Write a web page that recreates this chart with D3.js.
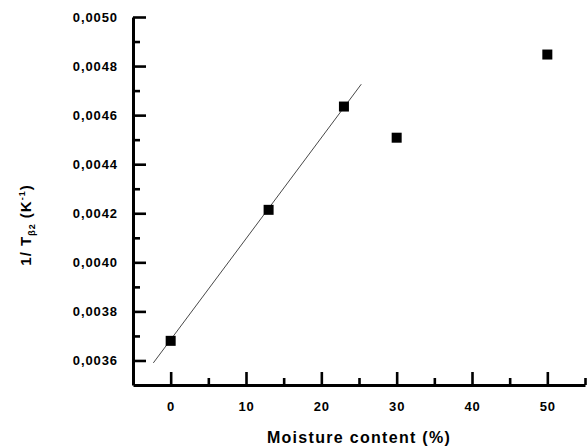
<!DOCTYPE html>
<html lang="en">
	<head>
		<meta charset="utf-8">
		<title>D3: 1/T vs moisture content</title>
		<script type="text/javascript" src="https://cdn.jsdelivr.net/npm/d3@7"></script>
		<style type="text/css">
			body { margin: 0; background: #fff; }
			text { font-family: "Liberation Sans", Arial, sans-serif; fill: #000; }
		</style>
	</head>
	<body>
		<script type="text/javascript">

			//Width and height
			var w = 587;
			var h = 446;

			//Data
			var moisture = [0, 13, 23, 30, 50];
			var invT = [0.00368, 0.004214, 0.004635, 0.004508, 0.004847];

			//Fitted line end points (as drawn)
			var fitX = [-2.3, 25.3];
			var fitY = [0.00359, 0.004726];

			//Tick values
			var xMajor = [0, 10, 20, 30, 40, 50];
			var xMinor = [5, 15, 25, 35, 45, 55];
			var yMajor = [0.0036, 0.0038, 0.0040, 0.0042, 0.0044, 0.0046, 0.0048, 0.0050];
			var yMinor = [0.0037, 0.0039, 0.0041, 0.0043, 0.0045, 0.0047, 0.0049];

			var dataset = moisture.map(function(m, i) { return { x: m, y: invT[i] }; });
			var fitLine = fitX.map(function(x, i) { return { x: x, y: fitY[i] }; });

			//Decimal comma
			var locale = d3.formatLocale({ decimal: ",", thousands: ".", grouping: [3], currency: ["", ""] });
			var fmtY = locale.format(".4f");

			var xScale = d3.scaleLinear()
						.domain([-5, 55])
						.range([133, 585]);

			var yScale = d3.scaleLinear()
						.domain([0.0035, 0.0050])
						.range([385, 17]);

			var svg = d3.select("body")
						.append("svg")
						.attr("width", w)
						.attr("height", h);

			//X axis: major ticks with labels, then minor ones
			var xAxis = d3.axisBottom(xScale)
						.tickValues(xMajor)
						.tickSizeInner(-13)
						.tickSizeOuter(0)
						.tickPadding(17)
						.tickFormat(d3.format("d"));

			svg.append("g")
				.attr("transform", "translate(0,385)")
				.call(xAxis);

			svg.append("g")
				.attr("transform", "translate(0,385)")
				.call(d3.axisBottom(xScale).tickValues(xMinor).tickSizeInner(-7).tickSizeOuter(0).tickFormat(""))
				.select(".domain").remove();

			//Y axis
			var yAxis = d3.axisLeft(yScale)
						.tickValues(yMajor)
						.tickSizeInner(-13)
						.tickSizeOuter(0)
						.tickPadding(15)
						.tickFormat(fmtY);

			svg.append("g")
				.attr("transform", "translate(133,0)")
				.call(yAxis);

			svg.append("g")
				.attr("transform", "translate(133,0)")
				.call(d3.axisLeft(yScale).tickValues(yMinor).tickSizeInner(-7).tickSizeOuter(0).tickFormat(""))
				.select(".domain").remove();

			//Axis styling
			svg.selectAll(".domain")
				.attr("stroke", "#000")
				.attr("stroke-width", 3);
			svg.selectAll(".tick line")
				.attr("stroke", "#000")
				.attr("stroke-width", 2.6);
			svg.selectAll(".tick text")
				.attr("font-family", "'Liberation Sans', Arial, sans-serif")
				.attr("font-size", "13px")
				.attr("font-weight", "bold")
				.attr("letter-spacing", "0.9px")
				.attr("fill", "#000");

			//Fitted line
			var line = d3.line()
						.x(function(d) { return xScale(d.x); })
						.y(function(d) { return yScale(d.y); });

			svg.append("path")
				.datum(fitLine)
				.attr("d", line)
				.attr("fill", "none")
				.attr("stroke", "#333")
				.attr("stroke-width", 0.9);

			//Square markers
			var sz = 10;
			svg.selectAll("rect.pt")
				.data(dataset)
				.enter()
				.append("rect")
				.attr("class", "pt")
				.attr("x", function(d) { return xScale(d.x) - sz / 2; })
				.attr("y", function(d) { return yScale(d.y) - sz / 2; })
				.attr("width", sz)
				.attr("height", sz)
				.attr("fill", "#000");

			//X title
			svg.append("text")
				.attr("x", 359)
				.attr("y", 443)
				.attr("text-anchor", "middle")
				.attr("font-size", "16px")
				.attr("font-weight", "bold")
				.attr("letter-spacing", "1.3px")
				.text("Moisture content (%)");

			//Y title
			var yt = svg.append("text")
				.attr("transform", "translate(31,225) rotate(-90)")
				.attr("text-anchor", "middle")
				.attr("font-size", "15px")
				.attr("font-weight", "bold")
				.attr("letter-spacing", "1px");
			yt.append("tspan").text("1/ T");
			yt.append("tspan").attr("font-size", "9px").attr("dy", 4).text("β2");
			yt.append("tspan").attr("dy", -4).text(" (K");
			yt.append("tspan").attr("font-size", "9px").attr("dy", -6).text("-1");
			yt.append("tspan").attr("dy", 6).text(")");

		</script>
	</body>
</html>
